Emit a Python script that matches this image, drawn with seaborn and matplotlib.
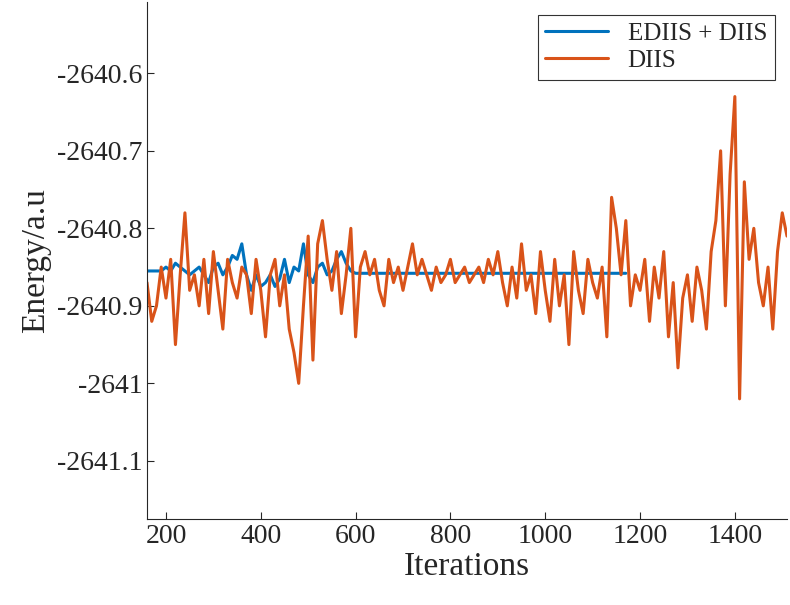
import numpy as np
import pandas as pd
import matplotlib
matplotlib.use("Agg")
import matplotlib.pyplot as plt
import seaborn as sns

# DIIS energies, every 10 iterations from 160 to 1510
diis_iter = list(range(160, 1520, 10))
diis_energy = [
    -2640.87, -2640.92, -2640.90, -2640.85, -2640.89, -2640.84, -2640.95, -2640.86, -2640.78, -2640.88,
    -2640.86, -2640.90, -2640.84, -2640.91, -2640.83, -2640.88, -2640.93, -2640.84, -2640.87, -2640.89,
    -2640.85, -2640.86, -2640.91, -2640.84, -2640.88, -2640.94, -2640.86, -2640.84, -2640.90, -2640.86,
    -2640.93, -2640.96, -2641.00, -2640.90, -2640.81, -2640.97, -2640.82, -2640.79, -2640.84, -2640.88,
    -2640.83, -2640.91, -2640.86, -2640.80, -2640.94, -2640.85, -2640.83, -2640.86, -2640.84, -2640.88,
    -2640.90, -2640.84, -2640.87, -2640.85, -2640.88, -2640.85, -2640.82, -2640.86, -2640.84, -2640.86,
    -2640.88, -2640.85, -2640.87, -2640.86, -2640.84, -2640.87, -2640.86, -2640.85, -2640.87, -2640.86,
    -2640.85, -2640.87, -2640.84, -2640.86, -2640.83, -2640.87, -2640.90, -2640.85, -2640.89, -2640.82,
    -2640.88, -2640.86, -2640.91, -2640.83, -2640.88, -2640.92, -2640.84, -2640.90, -2640.86, -2640.95,
    -2640.83, -2640.88, -2640.91, -2640.84, -2640.87, -2640.89, -2640.85, -2640.94, -2640.76, -2640.80,
    -2640.86, -2640.79, -2640.90, -2640.86, -2640.88, -2640.84, -2640.92, -2640.85, -2640.89, -2640.83,
    -2640.94, -2640.87, -2640.98, -2640.89, -2640.86, -2640.92, -2640.85, -2640.88, -2640.93, -2640.83,
    -2640.79, -2640.70, -2640.90, -2640.73, -2640.63, -2641.02, -2640.74, -2640.84, -2640.80, -2640.87,
    -2640.90, -2640.85, -2640.93, -2640.83, -2640.78, -2640.81,
]

# EDIIS + DIIS energies, every 10 iterations from 160 to 1170
ediis_iter = list(range(160, 1180, 10))
ediis_energy = [
    -2640.855, -2640.855, -2640.855, -2640.855, -2640.850, -2640.855, -2640.845, -2640.850, -2640.855, -2640.860,
    -2640.855, -2640.850, -2640.860, -2640.870, -2640.850, -2640.845, -2640.860, -2640.850, -2640.835, -2640.840,
    -2640.820, -2640.860, -2640.880, -2640.860, -2640.875, -2640.870, -2640.860, -2640.875, -2640.865, -2640.840,
    -2640.870, -2640.850, -2640.855, -2640.820, -2640.860, -2640.870, -2640.850, -2640.845, -2640.860, -2640.855,
    -2640.840, -2640.830, -2640.845, -2640.855,
]
ediis_energy += [-2640.858] * (len(ediis_iter) - len(ediis_energy))

df = pd.concat([
    pd.DataFrame({'Iterations': ediis_iter, 'Energy': ediis_energy, 'Method': 'EDIIS + DIIS'}),
    pd.DataFrame({'Iterations': diis_iter, 'Energy': diis_energy, 'Method': 'DIIS'}),
])

sns.set_style('white')
plt.rcParams['font.family'] = ['Liberation Serif', 'DejaVu Serif']

fig = plt.figure(figsize=(7.9, 6.05), dpi=100)
ax = fig.add_axes([147 / 790, 86 / 605, 640 / 790, 517 / 605])

sns.lineplot(
    data=df, x='Iterations', y='Energy', hue='Method',
    palette={'EDIIS + DIIS': '#0072BD', 'DIIS': '#D95319'},
    linewidth=2.2, ax=ax
)

ax.set_xlim(160, 1510)
ax.set_ylim(-2641.175, -2640.508)
ax.set_xticks([200, 400, 600, 800, 1000, 1200, 1400])
ax.set_yticks([-2641.1, -2641, -2640.9, -2640.8, -2640.7, -2640.6])
ax.set_yticklabels(['-2641.1', '-2641', '-2640.9', '-2640.8', '-2640.7', '-2640.6'])
ax.tick_params(direction='in', labelsize=20, length=5, left=True, bottom=True)
ax.set_xlabel('Iterations', fontsize=24, labelpad=2)
ax.set_ylabel('Energy/a.u', fontsize=24, labelpad=4)
for s in ['top', 'right']:
    ax.spines[s].set_visible(False)
for s in ['left', 'bottom']:
    ax.spines[s].set_color('#262626')

leg = ax.legend(loc='upper right', fontsize=18, frameon=True, fancybox=False,
                edgecolor='black', handlelength=2.5, borderaxespad=0.5,
                borderpad=0.3, labelspacing=0.2)
leg.get_frame().set_linewidth(0.8)

plt.savefig('out.png', dpi=100)
